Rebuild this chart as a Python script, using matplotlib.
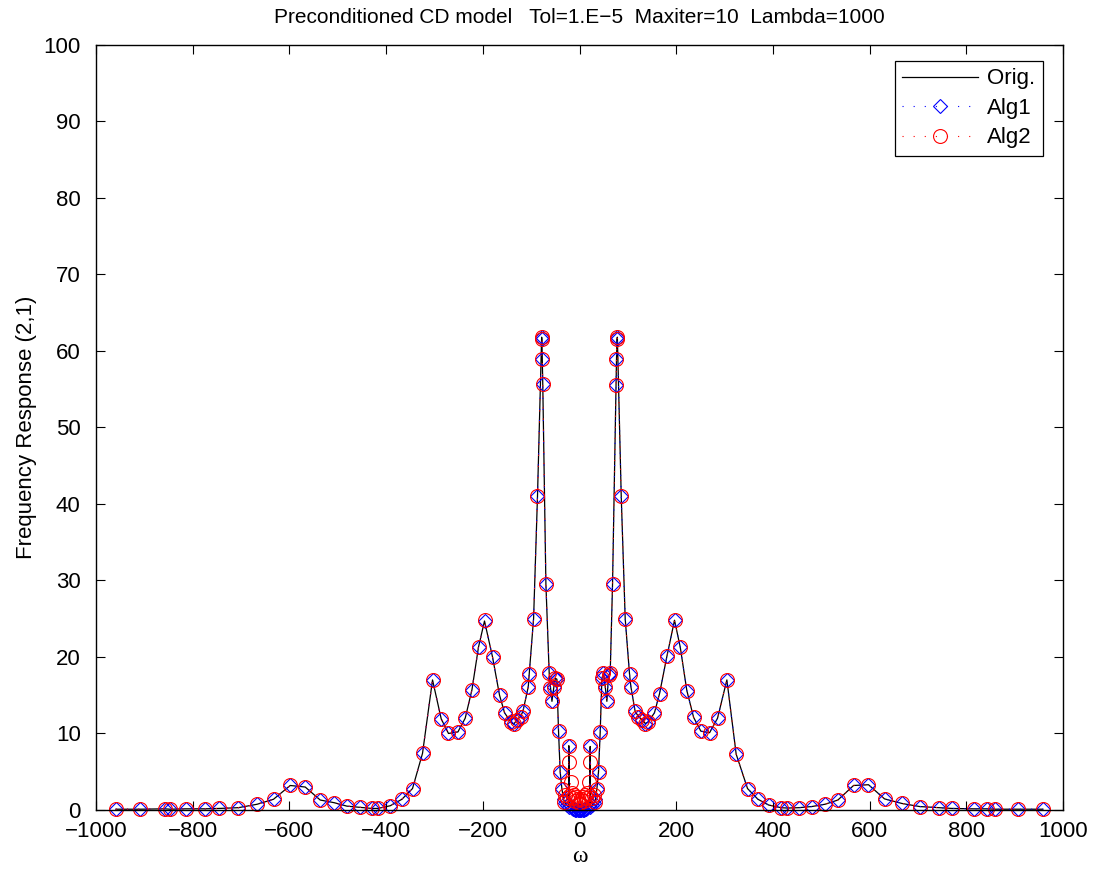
import matplotlib
matplotlib.use('Agg')
import matplotlib.pyplot as plt

# frequency points (rad/s) and magnitudes
omega = [-958.9, -908.6, -858.3, -846.5, -814.9, -775.6, -744.6, -705.3, -666.6, -632.9,
         -598.3, -567.3, -536.3, -507.3, -481.1, -455.0, -429.4, -417.0, -391.5, -367.3,
         -345.4, -324.7, -304.0, -286.0, -271.0, -251.5, -236.4, -222.5, -208.9, -196.5,
         -179.9, -165.4, -155.0, -142.0, -136.0, -129.5, -122.0, -117.0, -106.0, -104.0,
         -95.0, -86.9, -78.3, -77.8, -77.0, -76.0, -69.5, -62.7, -60.0, -57.0,
         -53.0, -50.0, -46.8, -43.4, -40.0, -36.5, -33.0, -30.0, -26.0, -22.6,
         -22.1, -21.0, -18.6, -16.5, -14.0, -11.5, -9.0, -6.5, -4.0, -1.5,
         1.5, 4.0, 6.5, 9.0, 11.5, 14.0, 16.5, 18.6, 21.0, 22.1,
         22.6, 26.0, 30.0, 33.0, 36.0, 39.3, 42.8, 46.3, 49.6, 53.2,
         56.6, 60.0, 63.5, 68.3, 75.5, 76.5, 77.5, 78.3, 86.3, 94.5,
         103.4, 106.3, 115.0, 122.0, 129.5, 136.0, 142.0, 155.0, 165.5, 180.8,
         196.5, 208.3, 222.0, 236.0, 251.0, 269.0, 285.5, 304.8, 324.0, 347.5,
         369.0, 391.0, 416.5, 430.0, 454.0, 480.6, 508.0, 534.4, 566.8, 597.7,
         630.8, 666.8, 703.2, 742.5, 770.0, 814.9, 843.8, 859.8, 906.7, 958.4]

orig = [0.1, 0.1, 0.15, 0.1, 0.15, 0.15, 0.2, 0.3, 0.75, 1.4,
        3.2, 3.0, 1.3, 0.95, 0.5, 0.35, 0.2, 0.2, 0.55, 1.4,
        2.8, 7.4, 17.0, 11.9, 10.0, 10.2, 12.0, 15.7, 21.3, 24.7,
        20.0, 15.0, 12.7, 11.5, 11.2, 11.8, 12.2, 12.9, 16.1, 17.8,
        25.0, 41.0, 61.8, 61.5, 58.9, 55.7, 29.5, 17.9, 16.0, 14.2,
        16.1, 17.2, 17.1, 10.3, 5.0, 2.8, 1.4, 0.9, 0.6, 0.4,
        8.4, 0.9, 0.6, 0.3, 0.2, 0.15, 0.12, 0.1, 0.08, 0.05,
        0.05, 0.08, 0.1, 0.12, 0.15, 0.2, 0.3, 0.6, 0.9, 8.3,
        0.4, 0.6, 0.9, 1.4, 2.8, 5.0, 10.2, 17.2, 17.9, 16.1,
        14.2, 17.6, 17.9, 29.5, 55.6, 58.9, 61.5, 61.8, 41.0, 25.0,
        17.8, 16.1, 12.9, 12.2, 11.8, 11.3, 11.5, 12.7, 15.2, 20.1,
        24.8, 21.3, 15.6, 12.1, 10.3, 10.1, 12.0, 17.0, 7.3, 2.8,
        1.4, 0.65, 0.3, 0.25, 0.3, 0.45, 0.75, 1.3, 3.2, 3.3,
        1.45, 0.85, 0.45, 0.3, 0.2, 0.15, 0.15, 0.1, 0.1, 0.1]

alg1 = [0.1, 0.1, 0.15, 0.1, 0.15, 0.15, 0.2, 0.3, 0.75, 1.4,
        3.2, 3.0, 1.3, 0.95, 0.5, 0.35, 0.2, 0.2, 0.55, 1.4,
        2.8, 7.4, 17.0, 11.9, 10.0, 10.2, 12.0, 15.7, 21.3, 24.7,
        20.0, 15.0, 12.7, 11.5, 11.2, 11.8, 12.2, 12.9, 16.1, 17.8,
        25.0, 41.0, 61.8, 61.5, 58.9, 55.7, 29.5, 17.9, 16.0, 14.2,
        16.1, 17.2, 17.1, 10.3, 5.0, 2.8, 1.4, 0.9, 0.6, 0.4,
        8.4, 0.8, 0.5, 0.25, 0.15, 0.1, 0.05, 0.05, 0.0, 0.0,
        0.0, 0.0, 0.05, 0.05, 0.1, 0.15, 0.25, 0.5, 0.8, 8.3,
        0.4, 0.6, 0.9, 1.4, 2.8, 5.0, 10.2, 17.2, 17.9, 16.1,
        14.2, 17.6, 17.9, 29.5, 55.6, 58.9, 61.5, 61.8, 41.0, 25.0,
        17.8, 16.1, 12.9, 12.2, 11.8, 11.3, 11.5, 12.7, 15.2, 20.1,
        24.8, 21.3, 15.6, 12.1, 10.3, 10.1, 12.0, 17.0, 7.3, 2.8,
        1.4, 0.65, 0.3, 0.25, 0.3, 0.45, 0.75, 1.3, 3.2, 3.3,
        1.45, 0.85, 0.45, 0.3, 0.2, 0.15, 0.15, 0.1, 0.1, 0.1]

alg2 = [0.1, 0.1, 0.15, 0.1, 0.15, 0.15, 0.2, 0.3, 0.75, 1.4,
        3.2, 3.0, 1.3, 0.95, 0.5, 0.35, 0.2, 0.2, 0.55, 1.4,
        2.8, 7.4, 17.0, 11.9, 10.0, 10.2, 12.0, 15.7, 21.3, 24.8,
        20.0, 15.0, 12.7, 11.5, 11.2, 11.8, 12.2, 12.9, 16.1, 17.8,
        25.0, 41.0, 61.8, 61.5, 58.9, 55.7, 29.5, 17.9, 16.0, 14.2,
        16.1, 17.2, 17.1, 10.3, 5.0, 2.8, 1.1, 2.0, 1.5, 6.3,
        8.3, 1.8, 3.6, 2.2, 1.6, 2.0, 1.2, 1.7, 1.4, 0.9,
        0.9, 1.4, 1.7, 1.2, 2.0, 1.6, 2.2, 3.6, 1.8, 8.3,
        6.3, 1.5, 2.0, 1.1, 2.8, 5.0, 10.2, 17.2, 17.9, 16.1,
        14.2, 17.6, 17.9, 29.5, 55.6, 58.9, 61.5, 61.8, 41.0, 25.0,
        17.8, 16.1, 12.9, 12.2, 11.8, 11.3, 11.5, 12.7, 15.2, 20.1,
        24.8, 21.3, 15.6, 12.1, 10.3, 10.1, 12.0, 17.0, 7.3, 2.8,
        1.4, 0.65, 0.3, 0.25, 0.3, 0.45, 0.75, 1.3, 3.2, 3.3,
        1.45, 0.85, 0.45, 0.3, 0.2, 0.15, 0.15, 0.1, 0.1, 0.1]

plt.rcParams['font.family'] = ['Liberation Sans', 'DejaVu Sans']
plt.rcParams['axes.unicode_minus'] = True

fig = plt.figure(figsize=(10.96, 8.73), dpi=100)
ax = fig.add_axes([0.0876, 0.0722, 0.8823, 0.8763])

ax.plot(omega, orig, color='black', linewidth=0.9, label='Orig.', clip_on=False)
ax.plot(omega, alg1, color='blue', linestyle=(0, (1, 9)), linewidth=0.8, marker='D',
        markersize=7.5, markerfacecolor='none', markeredgecolor='blue',
        markeredgewidth=0.8, label='Alg1', clip_on=False)
ax.plot(omega, alg2, color='red', linestyle=(0, (1, 9)), linewidth=0.8, marker='o',
        markersize=10, markerfacecolor='none', markeredgecolor='red',
        markeredgewidth=0.8, label='Alg2', clip_on=False)

ax.set_xlim(-1000, 1000)
ax.set_ylim(0, 100)
ax.set_xticks(range(-1000, 1001, 200))
ax.set_yticks(range(0, 101, 10))
ax.tick_params(direction='in', length=6.5, width=0.8, labelsize=16,
               top=True, right=True)
ax.tick_params(axis='x', pad=8)
ax.tick_params(axis='y', pad=11)
for s in ax.spines.values():
    s.set_linewidth(1.0)

ax.set_title('Preconditioned CD model   Tol=1.E\u22125  Maxiter=10  Lambda=1000',
             fontsize=15, pad=16)
ax.set_ylabel('Frequency Response (2,1)', fontsize=16, labelpad=5)
ax.set_xlabel('\u03c9', fontsize=17, family=['Liberation Serif', 'DejaVu Serif'], labelpad=3)

leg = ax.legend(loc='upper right', bbox_to_anchor=(0.979, 0.9795), borderaxespad=0,
                fontsize=16, handlelength=3.4, labelspacing=0.38, fancybox=False,
                framealpha=1, edgecolor='black', borderpad=0.35, handletextpad=0.4)
leg.get_frame().set_linewidth(0.9)

plt.savefig('out.png', dpi=100)
